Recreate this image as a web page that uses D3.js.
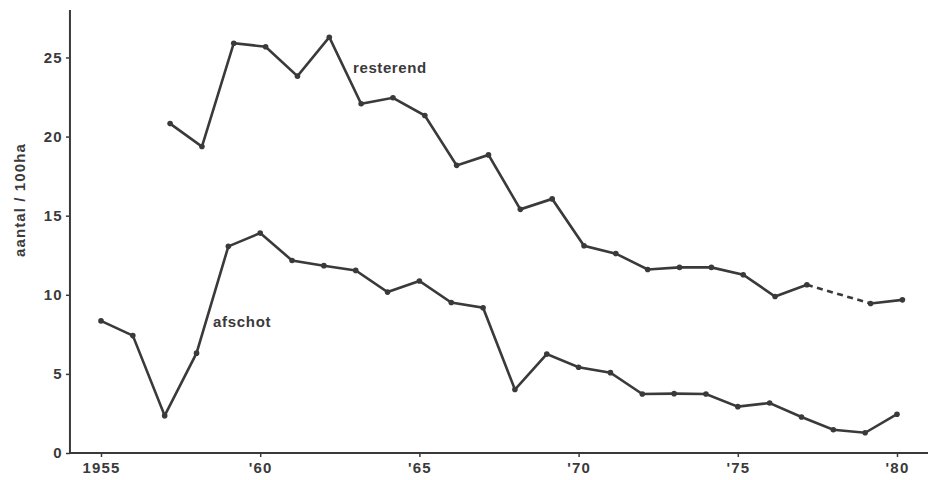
<!DOCTYPE html>
<html>
<head>
<meta charset="utf-8">
<script src="https://cdn.jsdelivr.net/npm/d3@7"></script>
<style>
  html, body { margin: 0; padding: 0; background: #fff; }
  svg { display: block; }
  text { font-family: "Liberation Sans", Arial, Helvetica, sans-serif; font-weight: bold; fill: #3a3a3a; }
</style>
</head>
<body>
<svg id="chart" width="939" height="480"></svg>
<script>
// ---- data ----
const afschotYears = [1955,1956,1957,1958,1959,1960,1961,1962,1963,1964,1965,1966,1967,1968,1969,1970,1971,1972,1973,1974,1975,1976,1977,1978,1979,1980];
const afschotValues = [8.35,7.42,2.36,6.31,13.06,13.9,12.17,11.84,11.54,10.17,10.87,9.51,9.18,4.01,6.25,5.42,5.08,3.73,3.75,3.73,2.93,3.16,2.28,1.47,1.28,2.45];

const resterendYears = [1957,1958,1959,1960,1961,1962,1963,1964,1965,1966,1967,1968,1969,1970,1971,1972,1973,1974,1975,1976,1977];
const resterendValues = [20.82,19.37,25.9,25.68,23.82,26.28,22.07,22.45,21.33,18.18,18.84,15.4,16.06,13.1,12.6,11.6,11.73,11.73,11.27,9.89,10.63];
// later counts, joined by a dashed line
const resterendLateYears = [1977,1979,1980];
const resterendLateValues = [10.63,9.45,9.68];

const xTickValues = [1955,1960,1965,1970,1975,1980];
const xTickLabels = ["1955","'60","'65","'70","'75","'80"];
const yTickValues = [0,5,10,15,20,25];

const yAxisTitle = "aantal / 100ha";
const labelResterend = "resterend";
const labelAfschot = "afschot";

// ---- drawing ----
const ink = "#3a3a3a";
const svg = d3.select("#chart");

const x = d3.scaleLinear().domain([1955, 1980]).range([101, 897]);
const y = d3.scaleLinear().domain([0, 28]).range([453, 10]);
const countShift = 0.17; // resterend counts are plotted slightly after the year mark

// axes
const xAxis = d3.axisBottom(x).tickValues(xTickValues)
  .tickFormat((d, i) => xTickLabels[i]).tickSize(4).tickSizeOuter(0).tickPadding(5);
const gx = svg.append("g").attr("transform", `translate(0,${y(0)})`).call(xAxis);
gx.select(".domain").remove();
gx.append("line").attr("x1", 69).attr("x2", 928).attr("y1", 0).attr("y2", 0)
  .attr("stroke", ink).attr("stroke-width", 2);
gx.selectAll(".tick line").attr("stroke", ink).attr("stroke-width", 1.5);
gx.selectAll(".tick text").attr("fill", ink).attr("font-size", null).attr("font-family", null)
  .style("font-size", "15px").style("letter-spacing", "1.2px");

const yAxis = d3.axisLeft(y).tickValues(yTickValues).tickSize(4).tickSizeOuter(0).tickPadding(3);
const gy = svg.append("g").attr("transform", `translate(${x(1954) + 0.8},0)`).call(yAxis);
gy.select(".domain").remove();
gy.append("line").attr("x1", 0).attr("x2", 0).attr("y1", 10).attr("y2", y(0) + 1)
  .attr("stroke", ink).attr("stroke-width", 2);
gy.selectAll(".tick line").attr("stroke", ink).attr("stroke-width", 1.5);
gy.selectAll(".tick text").attr("fill", ink).attr("font-size", null).attr("font-family", null)
  .style("font-size", "15px").style("letter-spacing", "1.3px");

// y title
svg.append("text")
  .attr("transform", `translate(25,200) rotate(-90)`)
  .attr("text-anchor", "middle")
  .style("font-size", "15px")
  .style("letter-spacing", "1.1px")
  .text(yAxisTitle);

// series
const afschot = afschotYears.map((yr, i) => ({ x: yr, v: afschotValues[i] }));
const rest = resterendYears.map((yr, i) => ({ x: yr + countShift, v: resterendValues[i] }));
const restLate = resterendLateYears.map((yr, i) => ({ x: yr + countShift, v: resterendLateValues[i] }));

const line = d3.line().x(d => x(d.x)).y(d => y(d.v));

function drawSeries(data, dashed) {
  svg.append("path").datum(data)
    .attr("d", line)
    .attr("fill", "none")
    .attr("stroke", ink)
    .attr("stroke-width", 2.6)
    .attr("stroke-linejoin", "miter")
    .attr("stroke-dasharray", dashed ? "6,4.5" : null);
}
drawSeries(afschot, false);
drawSeries(rest, false);
drawSeries(restLate.slice(0, 2), true);
drawSeries(restLate.slice(1), false);

const allPoints = afschot.concat(rest, restLate.slice(1));
svg.append("g").selectAll("circle").data(allPoints).join("circle")
  .attr("cx", d => x(d.x)).attr("cy", d => y(d.v)).attr("r", 2.8).attr("fill", ink);

// series labels
svg.append("text").attr("x", 353).attr("y", 73).style("font-size", "15px")
  .style("letter-spacing", "0.6px").text(labelResterend);
svg.append("text").attr("x", 213).attr("y", 327).style("font-size", "15px")
  .style("letter-spacing", "0.7px").text(labelAfschot);
</script>
</body>
</html>
